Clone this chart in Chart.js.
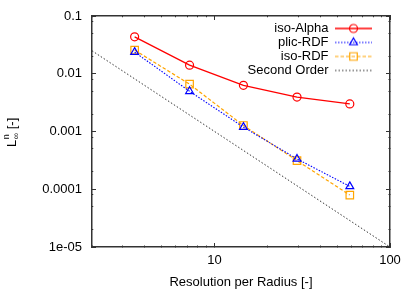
<!DOCTYPE html>
<html lang="en">
<head>
    <meta charset="UTF-8">
    <title>Convergence - L infinity norm</title>
    <script src="https://cdn.jsdelivr.net/npm/chart.js"></script>
    <style>
        body { margin: 0; background: #fff; }
        canvas { display: block; }
    </style>
</head>
<body>
    <canvas id="convChart" width="415" height="291"></canvas>

    <script>
        // values
        const resolution = [3.5, 7.2, 14.6, 29.5, 59];
        const isoAlpha = [0.0436, 0.0141, 0.0063, 0.00395, 0.0030];
        const plicRDF = [0.0237, 0.00497, 0.00119, 0.000335, 0.000112];
        const isoRDF = [0.0257, 0.0066, 0.00127, 0.000313, 0.0000794];
        const secondOrderX = [2, 100];
        const secondOrderY = [0.025, 0.00001];

        const xMajorTicks = [10, 100];
        const xMajorLabels = ['10', '100'];
        const xMinorTicks = [2, 3, 4, 5, 6, 7, 8, 9, 20, 30, 40, 50, 60, 70, 80, 90];
        const yMajorTicks = [0.00001, 0.0001, 0.001, 0.01, 0.1];
        const yMajorLabels = ['1e-05', '0.0001', '0.001', '0.01', '0.1'];
        const yMinorTicks = [0.00002, 0.00005, 0.00008, 0.0002, 0.0005, 0.0008,
                             0.002, 0.005, 0.008, 0.02, 0.05, 0.08];

        const FONT = 'Liberation Sans, Arial, Helvetica, sans-serif';
        const AXIS = '#333';

        function pts(xs, ys) {
            return xs.map((x, i) => ({ x: x, y: ys[i] }));
        }

        function tickList(majors, labels, minors) {
            const list = majors.map((v, i) => ({ value: v, text: labels[i], isMajor: true }));
            minors.forEach(v => list.push({ value: v, text: '', isMajor: false }));
            return list.sort((a, b) => a.value - b.value);
        }
        const xTicks = tickList(xMajorTicks, xMajorLabels, xMinorTicks);
        const yTicks = tickList(yMajorTicks, yMajorLabels, yMinorTicks);

        // ticks point inwards (negative tick length); minor ones are shorter via dash
        function gridOpts(startsAtBorder) {
            return {
                drawOnChartArea: false,
                drawTicks: true,
                tickLength: -4,
                color: AXIS,
                tickColor: AXIS,
                tickWidth: 1,
                tickBorderDash: c => (c.tick && c.tick.isMajor) ? [] :
                    (startsAtBorder ? [2, 20] : [0, 2.75, 20, 0])
            };
        }

        function logAxis(position, ticks, minV, maxV, showLabels, startsAtBorder, size, pad) {
            const horizontal = position === 'top' || position === 'bottom';
            return {
                type: 'logarithmic',
                position: position,
                min: minV,
                max: maxV,
                border: { display: true, color: AXIS, width: 1.5 },
                grid: gridOpts(startsAtBorder),
                afterBuildTicks: s => { s.ticks = ticks.map(t => Object.assign({}, t)); },
                afterFit: s => {
                    if (horizontal) { s.height = size; } else { s.width = size; }
                    // the layout should not grow to make room for label overhang
                    s.paddingTop = 0; s.paddingBottom = 0;
                    s.paddingLeft = 0; s.paddingRight = 0;
                },
                ticks: {
                    display: showLabels,
                    autoSkip: false,
                    maxRotation: 0,
                    padding: pad,
                    color: '#000',
                    font: { family: FONT, size: 13 },
                    callback: (v, i, tk) => tk[i].text
                }
            };
        }

        // legend samples: line + marker, with blank room on the right
        function legendSample(color, dash, width, marker) {
            const c = document.createElement('canvas');
            c.width = 54; c.height = 14;
            const g = c.getContext('2d');
            g.strokeStyle = color;
            g.lineWidth = width;
            g.setLineDash(dash);
            g.beginPath(); g.moveTo(0, 7); g.lineTo(37, 7); g.stroke();
            g.setLineDash([]);
            g.lineWidth = 1.2;
            g.beginPath();
            if (marker === 'circle') {
                g.arc(18.5, 7, 4, 0, Math.PI * 2);
            } else if (marker === 'triangle') {
                g.moveTo(18.5, 2.5); g.lineTo(22.4, 9.25); g.lineTo(14.6, 9.25); g.closePath();
            } else if (marker === 'rect') {
                g.rect(14.75, 3.25, 7.5, 7.5);
            }
            g.stroke();
            return c;
        }
        const legendSamples = [
            legendSample('#ff0000', [], 1.3, 'circle'),
            legendSample('#0000ff', [1.5, 1.5], 1.1, 'triangle'),
            legendSample('#ffa500', [3.5, 2], 1.2, 'rect'),
            legendSample('#333333', [1.5, 2], 1, null)
        ];

        // y axis title L_inf^n [-] with sub/superscript
        const yTitlePlugin = {
            id: 'yTitle',
            afterDraw(chart) {
                const ctx = chart.ctx;
                ctx.save();
                ctx.translate(15.5, 147);
                ctx.rotate(-Math.PI / 2);
                ctx.fillStyle = '#000';
                ctx.textAlign = 'left';
                ctx.textBaseline = 'alphabetic';
                ctx.font = '13px ' + FONT;
                ctx.fillText('L', 0, 0);
                const wL = ctx.measureText('L').width + 0.5;
                ctx.font = '9px ' + FONT;
                ctx.fillText('n', wL, -6.5);
                ctx.fillText('\u221E', wL, 3);
                const wS = Math.max(ctx.measureText('n').width, ctx.measureText('\u221E').width);
                ctx.font = '13px ' + FONT;
                ctx.fillText(' [-]', wL + wS, 0);
                ctx.restore();
            }
        };

        // put the legend in the top right corner of the plot area
        const legendPlace = {
            id: 'legendPlace',
            afterLayout(chart) {
                const lg = chart.legend;
                const a = chart.chartArea;
                if (!lg) return;
                lg.left = a.right - lg.width;
                lg.right = a.right;
                lg.top = a.top + 5;
                lg.bottom = a.bottom;
            }
        };

        const ctx = document.getElementById('convChart').getContext('2d');
        const convChart = new Chart(ctx, {
            type: 'line',
            data: {
                datasets: [
                    {
                        label: 'iso-Alpha',
                        data: pts(resolution, isoAlpha),
                        borderColor: '#ff0000',
                        borderWidth: 1.3,
                        pointStyle: 'circle',
                        pointRadius: 4,
                        pointBorderWidth: 1.2,
                        pointBackgroundColor: 'rgba(0,0,0,0)',
                        pointBorderColor: '#ff0000'
                    },
                    {
                        label: 'plic-RDF',
                        data: pts(resolution, plicRDF),
                        borderColor: '#0000ff',
                        borderWidth: 1.1,
                        borderDash: [1.5, 1.5],
                        pointStyle: 'triangle',
                        pointRadius: 4.5,
                        pointBorderWidth: 1.2,
                        pointBackgroundColor: 'rgba(0,0,0,0)',
                        pointBorderColor: '#0000ff'
                    },
                    {
                        label: 'iso-RDF',
                        data: pts(resolution, isoRDF),
                        borderColor: '#ffa500',
                        borderWidth: 1.2,
                        borderDash: [3.5, 2],
                        pointStyle: 'rect',
                        pointRadius: 5.3,
                        pointBorderWidth: 1.2,
                        pointBackgroundColor: 'rgba(0,0,0,0)',
                        pointBorderColor: '#ffa500'
                    },
                    {
                        label: 'Second Order',
                        data: pts(secondOrderX, secondOrderY),
                        borderColor: '#333333',
                        borderWidth: 1,
                        borderDash: [1.5, 2],
                        pointRadius: 0
                    }
                ]
            },
            options: {
                responsive: false,
                devicePixelRatio: 1,
                animation: false,
                layout: { padding: { left: 0, right: 25, top: 16, bottom: 0 } },
                plugins: {
                    title: { display: false },
                    tooltip: { enabled: false },
                    legend: {
                        position: 'chartArea',
                        align: 'start',
                        rtl: true,
                        labels: {
                            usePointStyle: true,
                            pointStyleWidth: 54,
                            padding: 1,
                            color: '#000',
                            font: { family: FONT, size: 13 },
                            generateLabels: chart =>
                                Chart.defaults.plugins.legend.labels.generateLabels(chart)
                                    .map((l, i) => Object.assign(l, { pointStyle: legendSamples[i] }))
                        }
                    }
                },
                scales: {
                    x: Object.assign(logAxis('bottom', xTicks, 2, 100, true, true, 44, 10), {
                        title: {
                            display: true,
                            text: 'Resolution per Radius [-]',
                            color: '#000',
                            font: { family: FONT, size: 13 },
                            padding: { top: 0, bottom: 1 }
                        }
                    }),
                    x2: logAxis('top', xTicks, 2, 100, false, false, 0, 0),
                    y: logAxis('left', yTicks, 0.00001, 0.1, true, false, 92, 14),
                    y2: logAxis('right', yTicks, 0.00001, 0.1, false, true, 0, 0)
                }
            },
            plugins: [yTitlePlugin, legendPlace]
        });
    </script>
</body>
</html>
